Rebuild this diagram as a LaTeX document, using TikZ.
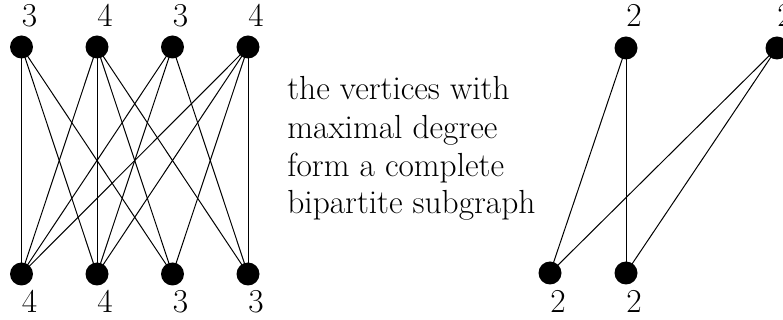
\documentclass[tikz,border=0pt]{standalone}
\begin{document}
\begin{tikzpicture}[x=0.5pt,y=-0.5pt,
  vtx/.style={circle,fill=black,inner sep=0pt,minimum size=11.5pt},
  deg/.style={anchor=base,inner sep=0pt,font=\fontsize{16.7}{20}\selectfont},
  txt/.style={anchor=base west,inner sep=0pt,font=\fontsize{16.7}{20}\selectfont},
  edge/.style={line width=0.5pt}]
\useasboundingbox (0,0) rectangle (783,320);
% left graph
\node[vtx] (t1) at (21.5,47) {};
\node[vtx] (t2) at (97,47) {};
\node[vtx] (t3) at (172.5,47) {};
\node[vtx] (t4) at (248,47) {};
\node[vtx] (b1) at (21.5,274) {};
\node[vtx] (b2) at (97,274) {};
\node[vtx] (b3) at (172.5,274) {};
\node[vtx] (b4) at (248,274) {};
\node[deg] (lt1) at (29.5,27) {3};
\node[deg] (lt2) at (105,27) {4};
\node[deg] (lt3) at (180.5,27) {3};
\node[deg] (lt4) at (256,27) {4};
\node[deg] (lb1) at (29.5,313) {4};
\node[deg] (lb2) at (105,313) {4};
\node[deg] (lb3) at (180.5,313) {3};
\node[deg] (lb4) at (256,313) {3};
\foreach \a/\b in {t1/b1,t1/b2,t1/b3,t2/b1,t2/b2,t2/b3,t2/b4,t3/b1,t3/b2,t3/b4,t4/b1,t4/b2,t4/b3,t4/b4}
  \draw[edge] (\a.center) -- (\b.center);
% text
\node[txt] (x1) at (287,100) {the vertices with};
\node[txt] (x2) at (287,139) {maximal degree};
\node[txt] (x3) at (287,177) {form a complete};
\node[txt] (x4) at (287,214) {bipartite subgraph};
% right graph
\node[vtx] (r1) at (626,48) {};
\node[vtx] (r2) at (777,48) {};
\node[vtx] (s1) at (550,273) {};
\node[vtx] (s2) at (626,273) {};
\node[deg] (lr1) at (634,27) {2};
\node[deg] (lr2) at (785,27) {2};
\node[deg] (ls1) at (558,313) {2};
\node[deg] (ls2) at (634,313) {2};
\foreach \a/\b in {r1/s1,r1/s2,r2/s1,r2/s2}
  \draw[edge] (\a.center) -- (\b.center);
\end{tikzpicture}
\end{document}
